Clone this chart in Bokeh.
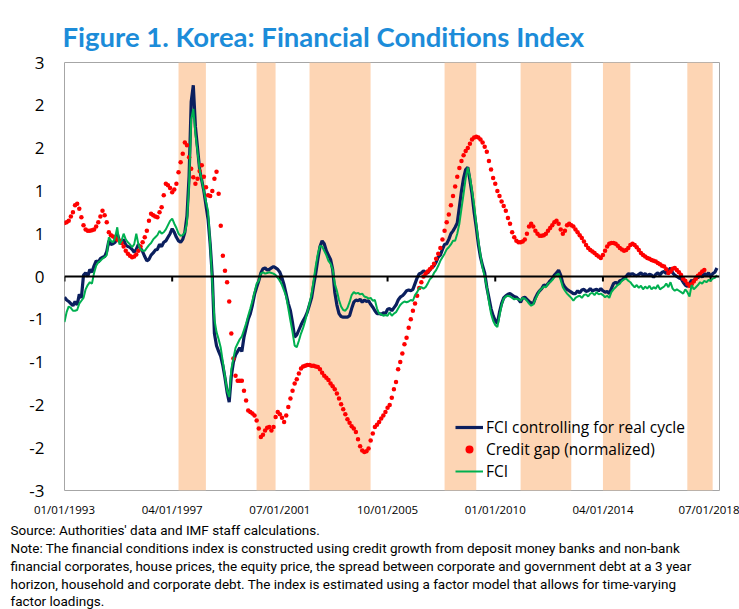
import numpy as np
from bokeh.plotting import figure
from bokeh.models import FixedTicker, Span, Legend, LegendItem, Range1d, Title
from bokeh.embed import file_html
from bokeh.resources import INLINE

# ---------------- data (monthly, starting Jan 1993) ----------------
start_year = 1993.0

fci_real = [
    -0.29, -0.33, -0.35, -0.38, -0.41, -0.35, -0.40, -0.25, -0.30, 0.02, 0.05, 0.00,
    0.10, 0.06, 0.15, 0.22, 0.20, 0.25, 0.27, 0.28, 0.35, 0.50, 0.45, 0.46,
    0.48, 0.60, 0.50, 0.46, 0.52, 0.44, 0.42, 0.41, 0.38, 0.34, 0.38, 0.45,
    0.40, 0.35, 0.28, 0.22, 0.24, 0.30, 0.33, 0.37, 0.38, 0.45, 0.42, 0.48,
    0.50, 0.55, 0.60, 0.67, 0.62, 0.55, 0.50, 0.48, 0.52, 0.62, 0.85, 1.40,
    2.45, 2.68, 2.10, 1.80, 1.50, 1.35, 1.20, 1.00, 0.80, 0.45, 0.00, -0.80,
    -0.97, -1.05, -1.12, -1.25, -1.42, -1.62, -1.76, -1.40, -1.20, -1.10, -1.05, -1.00,
    -1.05, -0.85, -0.72, -0.60, -0.52, -0.40, -0.25, -0.15, -0.06, 0.05, 0.11, 0.12,
    0.09, 0.10, 0.12, 0.14, 0.12, 0.10, 0.06, -0.02, -0.12, -0.25, -0.38, -0.48,
    -0.65, -0.85, -0.82, -0.75, -0.68, -0.62, -0.57, -0.50, -0.40, -0.30, -0.12, 0.05,
    0.25, 0.42, 0.50, 0.46, 0.36, 0.30, 0.24, 0.10, -0.22, -0.40, -0.52, -0.56,
    -0.57, -0.57, -0.57, -0.55, -0.45, -0.36, -0.33, -0.34, -0.32, -0.36, -0.33, -0.35,
    -0.34, -0.39, -0.43, -0.48, -0.52, -0.52, -0.53, -0.51, -0.52, -0.46, -0.45, -0.48,
    -0.44, -0.40, -0.33, -0.29, -0.27, -0.24, -0.20, -0.19, -0.20, -0.18, -0.10, -0.02,
    0.04, 0.05, 0.08, 0.06, 0.05, 0.09, 0.13, 0.15, 0.20, 0.27, 0.30, 0.38,
    0.45, 0.46, 0.52, 0.60, 0.64, 0.69, 0.75, 0.97, 1.20, 1.38, 1.50, 1.53,
    1.35, 1.16, 0.90, 0.69, 0.45, 0.27, 0.15, 0.05, -0.15, -0.30, -0.45, -0.55,
    -0.62, -0.66, -0.50, -0.38, -0.30, -0.27, -0.25, -0.24, -0.26, -0.28, -0.29, -0.32,
    -0.36, -0.30, -0.29, -0.32, -0.35, -0.37, -0.38, -0.30, -0.24, -0.20, -0.17, -0.12,
    -0.13, -0.10, -0.06, -0.03, 0.02, 0.05, 0.09, 0.02, -0.10, -0.15, -0.18, -0.20,
    -0.22, -0.24, -0.24, -0.20, -0.23, -0.19, -0.18, -0.21, -0.20, -0.17, -0.20, -0.19,
    -0.18, -0.20, -0.17, -0.20, -0.22, -0.21, -0.24, -0.17, -0.10, -0.08, -0.10, -0.06,
    -0.05, -0.02, 0.00, 0.04, 0.03, 0.04, 0.02, 0.01, 0.03, 0.05, 0.02, 0.04,
    0.01, 0.03, 0.02, -0.01, 0.03, 0.05, 0.02, 0.06, 0.07, 0.04, 0.08, 0.12,
    0.05, 0.02, 0.00, -0.02, -0.03, -0.08, -0.12, -0.14, -0.10, -0.05, -0.08, 0.00,
    -0.02, 0.03, -0.01, 0.04, 0.02, 0.05, 0.00, 0.04, 0.06, 0.12,
]

fci = [
    -0.64, -0.50, -0.42, -0.44, -0.48, -0.48, -0.47, -0.38, -0.34, -0.30, -0.18, -0.12,
    -0.08, -0.10, 0.05, 0.15, 0.20, 0.22, 0.25, 0.27, 0.30, 0.55, 0.50, 0.48,
    0.55, 0.69, 0.45, 0.50, 0.60, 0.52, 0.48, 0.45, 0.41, 0.45, 0.60, 0.45,
    0.38, 0.36, 0.36, 0.40, 0.44, 0.47, 0.52, 0.55, 0.58, 0.64, 0.60, 0.62,
    0.66, 0.72, 0.78, 0.81, 0.74, 0.68, 0.60, 0.57, 0.58, 0.62, 0.75, 1.30,
    2.20, 2.35, 2.00, 1.75, 1.50, 1.35, 1.20, 1.05, 0.92, 0.45, -0.10, -0.60,
    -0.78, -0.88, -1.00, -1.20, -1.40, -1.60, -1.69, -1.30, -1.15, -1.00, -0.94, -0.88,
    -0.84, -0.75, -0.66, -0.55, -0.45, -0.34, -0.22, -0.10, -0.06, 0.04, 0.06, 0.04,
    0.05, 0.06, 0.05, 0.04, 0.02, -0.02, -0.06, -0.12, -0.20, -0.28, -0.45, -0.62,
    -0.78, -0.97, -0.99, -0.90, -0.80, -0.72, -0.62, -0.50, -0.38, -0.25, -0.05, 0.15,
    0.32, 0.43, 0.42, 0.36, 0.30, 0.22, 0.18, 0.10, -0.10, -0.20, -0.33, -0.42,
    -0.47, -0.48, -0.44, -0.36, -0.26, -0.22, -0.24, -0.23, -0.25, -0.24, -0.28, -0.29,
    -0.31, -0.30, -0.34, -0.33, -0.45, -0.52, -0.53, -0.55, -0.54, -0.55, -0.50, -0.55,
    -0.52, -0.50, -0.45, -0.40, -0.37, -0.35, -0.36, -0.35, -0.33, -0.34, -0.26, -0.22,
    -0.16, -0.15, -0.17, -0.15, -0.10, -0.04, -0.01, 0.05, 0.09, 0.15, 0.22, 0.27,
    0.32, 0.38, 0.41, 0.45, 0.50, 0.50, 0.60, 0.74, 0.95, 1.16, 1.38, 1.53,
    1.40, 1.20, 1.00, 0.74, 0.50, 0.30, 0.12, 0.00, -0.15, -0.35, -0.52, -0.62,
    -0.68, -0.71, -0.55, -0.40, -0.31, -0.28, -0.27, -0.28, -0.30, -0.32, -0.31, -0.32,
    -0.34, -0.30, -0.31, -0.34, -0.38, -0.41, -0.39, -0.32, -0.26, -0.20, -0.17, -0.14,
    -0.15, -0.10, -0.08, -0.05, -0.01, 0.02, 0.04, -0.05, -0.15, -0.20, -0.24, -0.27,
    -0.30, -0.34, -0.30, -0.28, -0.27, -0.30, -0.26, -0.25, -0.28, -0.24, -0.23, -0.26,
    -0.22, -0.25, -0.24, -0.26, -0.29, -0.27, -0.30, -0.22, -0.18, -0.15, -0.12, -0.10,
    -0.06, -0.04, -0.03, -0.06, -0.08, -0.12, -0.15, -0.12, -0.16, -0.13, -0.18, -0.14,
    -0.17, -0.13, -0.18, -0.15, -0.17, -0.12, -0.18, -0.16, -0.14, -0.10, -0.15, -0.08,
    -0.17, -0.20, -0.18, -0.20, -0.22, -0.24, -0.18, -0.22, -0.28, -0.12, -0.18, -0.15,
    -0.12, -0.08, -0.10, -0.06, -0.08, -0.05, -0.06, -0.03, -0.02, 0.02,
]

credit_gap = [
    0.75, 0.76, 0.78, 0.84, 0.90, 1.00, 1.02, 0.95, 0.83, 0.72, 0.66, 0.64,
    0.64, 0.65, 0.66, 0.70, 0.76, 0.84, 0.92, 0.86, 0.76, 0.62, 0.58, 0.56,
    0.54, 0.52, 0.50, 0.47, 0.42, 0.36, 0.32, 0.29, 0.27, 0.28, 0.31, 0.36,
    0.42, 0.48, 0.55, 0.64, 0.78, 0.88, 0.86, 0.84, 0.83, 0.90, 0.97, 1.14,
    1.30, 1.28, 1.24, 1.18, 1.22, 1.30, 1.46, 1.60, 1.72, 1.88, 1.84, 1.67,
    1.51, 1.39, 1.30, 1.37, 1.48, 1.56, 1.40, 1.25, 1.14, 1.13, 1.20, 1.37,
    1.47, 1.16, 0.71, 0.29, 0.08, -0.08, -0.35, -0.80, -1.15, -1.39, -1.46, -1.46,
    -1.46, -1.60, -1.74, -1.88, -1.90, -1.92, -1.95, -2.02, -2.13, -2.25, -2.22, -2.16,
    -2.12, -2.11, -2.16, -2.11, -1.97, -1.90, -1.93, -1.98, -2.04, -1.95, -1.83, -1.71,
    -1.60, -1.50, -1.44, -1.36, -1.29, -1.26, -1.25, -1.24, -1.24, -1.25, -1.25, -1.26,
    -1.27, -1.30, -1.35, -1.39, -1.42, -1.45, -1.50, -1.54, -1.58, -1.64, -1.71, -1.79,
    -1.86, -1.93, -2.00, -2.05, -2.10, -2.13, -2.18, -2.28, -2.38, -2.44, -2.46, -2.45,
    -2.41, -2.30, -2.20, -2.11, -2.08, -2.04, -1.99, -1.95, -1.90, -1.84, -1.80, -1.70,
    -1.58, -1.48, -1.30, -1.20, -1.08, -0.95, -0.86, -0.72, -0.60, -0.48, -0.38, -0.27,
    -0.16, -0.08, 0.00, 0.04, 0.07, 0.10, 0.13, 0.18, 0.25, 0.32, 0.40, 0.52,
    0.64, 0.76, 0.87, 1.00, 1.13, 1.26, 1.40, 1.52, 1.62, 1.70, 1.76, 1.80,
    1.86, 1.92, 1.95, 1.96, 1.95, 1.92, 1.88, 1.82, 1.75, 1.62, 1.50, 1.38,
    1.30, 1.20, 1.13, 1.05, 0.99, 0.92, 0.82, 0.74, 0.62, 0.55, 0.50, 0.48,
    0.48, 0.49, 0.52, 0.60, 0.70, 0.74, 0.70, 0.64, 0.60, 0.57, 0.57, 0.58,
    0.60, 0.64, 0.68, 0.72, 0.76, 0.78, 0.74, 0.66, 0.60, 0.64, 0.72, 0.74,
    0.72, 0.70, 0.66, 0.62, 0.58, 0.54, 0.49, 0.44, 0.40, 0.37, 0.35, 0.33,
    0.30, 0.28, 0.26, 0.30, 0.36, 0.42, 0.46, 0.47, 0.47, 0.46, 0.43, 0.40,
    0.38, 0.36, 0.37, 0.40, 0.44, 0.46, 0.44, 0.41, 0.37, 0.33, 0.30, 0.28,
    0.26, 0.25, 0.23, 0.22, 0.21, 0.19, 0.17, 0.15, 0.14, 0.10, 0.05, 0.07,
    0.11, 0.12, 0.09, 0.06, 0.02, -0.03, -0.06, -0.10, -0.13, -0.11, -0.07, -0.03,
    0.01, 0.04, 0.07, 0.09,
]

# shaded periods (decimal years)
band_start = [1997.50, 2000.58, 2002.67, 2008.00, 2011.00, 2014.25, 2017.58]
band_end = [1998.58, 2001.33, 2005.08, 2009.25, 2013.00, 2015.33, 2018.58]

x_ticks = [1993.0, 1997.25, 2001.5, 2005.75, 2010.0, 2014.25, 2018.5]
x_tick_labels = ["01/01/1993", "04/01/1997", "07/01/2001", "10/01/2005",
                 "01/01/2010", "04/01/2014", "07/01/2018"]
y_ticks = [-3.0, -2.4, -1.8, -1.2, -0.6, 0.0, 0.6, 1.2, 1.8, 2.4, 3.0]
y_tick_labels = ["-3", "-2", "-2", "-1", "-1", "0", "1", "1", "2", "2", "3"]

title_text = "Figure 1. Korea: Financial Conditions Index"
note_lines = [
    "Source: Authorities' data and IMF staff calculations.",
    "Note: The financial conditions index is constructed using credit growth from deposit money banks and non-bank",
    "financial corporates, house prices, the equity price, the spread between corporate and government debt at a 3 year",
    "horizon, household and corporate debt. The index is estimated using a factor model that allows for time-varying",
    "factor loadings.",
]

x_real = [start_year + i / 12 for i in range(len(fci_real))]
x_fci = [start_year + i / 12 for i in range(len(fci))]
x_gap = [start_year + i / 12 for i in range(len(credit_gap))]

# ---------------- figure ----------------
p = figure(width=739, height=609,
           x_range=Range1d(1993.0, 2018.85), y_range=Range1d(-3, 3),
           output_backend="svg", toolbar_location=None,
           min_border_left=64, min_border_right=20,
           min_border_top=62, min_border_bottom=119)
p.grid.visible = False
p.outline_line_color = "#A6A6A6"
p.outline_line_width = 1
p.background_fill_color = "white"
p.border_fill_color = "white"

# axes
p.xaxis.ticker = FixedTicker(ticks=x_ticks)
p.xaxis.major_label_overrides = {t: l for t, l in zip(x_ticks, x_tick_labels)}
p.xaxis.axis_line_color = None
p.xaxis.major_tick_line_color = None
p.xaxis.minor_tick_line_color = None
p.xaxis.major_tick_in = 0
p.xaxis.major_tick_out = 0
p.xaxis.major_label_standoff = 11
p.xaxis.major_label_text_font = "Open Sans"
p.xaxis.major_label_text_font_size = "11.5px"
p.xaxis.major_label_text_color = "#000000"

p.yaxis.ticker = FixedTicker(ticks=y_ticks)
p.yaxis.major_label_overrides = {t: l for t, l in zip(y_ticks, y_tick_labels)}
p.yaxis.axis_line_color = None
p.yaxis.major_tick_line_color = None
p.yaxis.minor_tick_line_color = None
p.yaxis.major_tick_in = 0
p.yaxis.major_tick_out = 0
p.yaxis.major_label_standoff = 20
p.yaxis.major_label_text_font = "Open Sans"
p.yaxis.major_label_text_font_size = "17px"
p.yaxis.major_label_text_color = "#000000"

# shaded bands
p.quad(left=band_start, right=band_end, bottom=y_ticks[0], top=y_ticks[-1],
       fill_color="#FDD5B4", line_color=None)

# zero line with tick marks
p.add_layout(Span(location=0, dimension="width", line_color="black", line_width=2))
p.segment(x0=x_ticks, y0=[0] * len(x_ticks), x1=x_ticks, y1=[-0.07] * len(x_ticks),
          line_color="black", line_width=2)

# series
r_real = p.line(x_real, fci_real, line_color="#0B1F5E", line_width=3.2)
r_gap = p.scatter(x_gap, credit_gap, size=4.5, fill_color="#FF0000", line_color=None)
r_fci = p.line(x_fci, fci, line_color="#00B050", line_width=2)

legend = Legend(items=[
    LegendItem(label="FCI controlling for real cycle", renderers=[r_real]),
    LegendItem(label="Credit gap (normalized)", renderers=[r_gap]),
    LegendItem(label="FCI", renderers=[r_fci]),
], location=(391, 8))
legend.background_fill_alpha = 0
legend.border_line_color = None
legend.padding = 0
legend.margin = 0
legend.spacing = 0
legend.glyph_width = 28
legend.glyph_height = 20
legend.label_height = 20
legend.label_standoff = 3
legend.label_text_font = "Open Sans"
legend.label_text_font_size = "15.5px"
legend.label_text_color = "#000000"
p.add_layout(legend, "center")

# title (above the frame)
p.add_layout(Title(text=title_text, align="left", offset=-2, standoff=19,
                   text_font="Lato", text_font_style="bold", text_font_size="27.5px",
                   text_color="#1C8CD9"), "above")

# source / notes as one multi-line block below the x axis
p.add_layout(Title(text="\n".join(note_lines), align="left", offset=-54, standoff=0,
                   text_font="Roboto", text_font_size="13.5px", text_line_height=1.12,
                   text_font_style="normal", text_color="#000000"), "below")

open("out.html", "w").write(file_html(p, INLINE))
